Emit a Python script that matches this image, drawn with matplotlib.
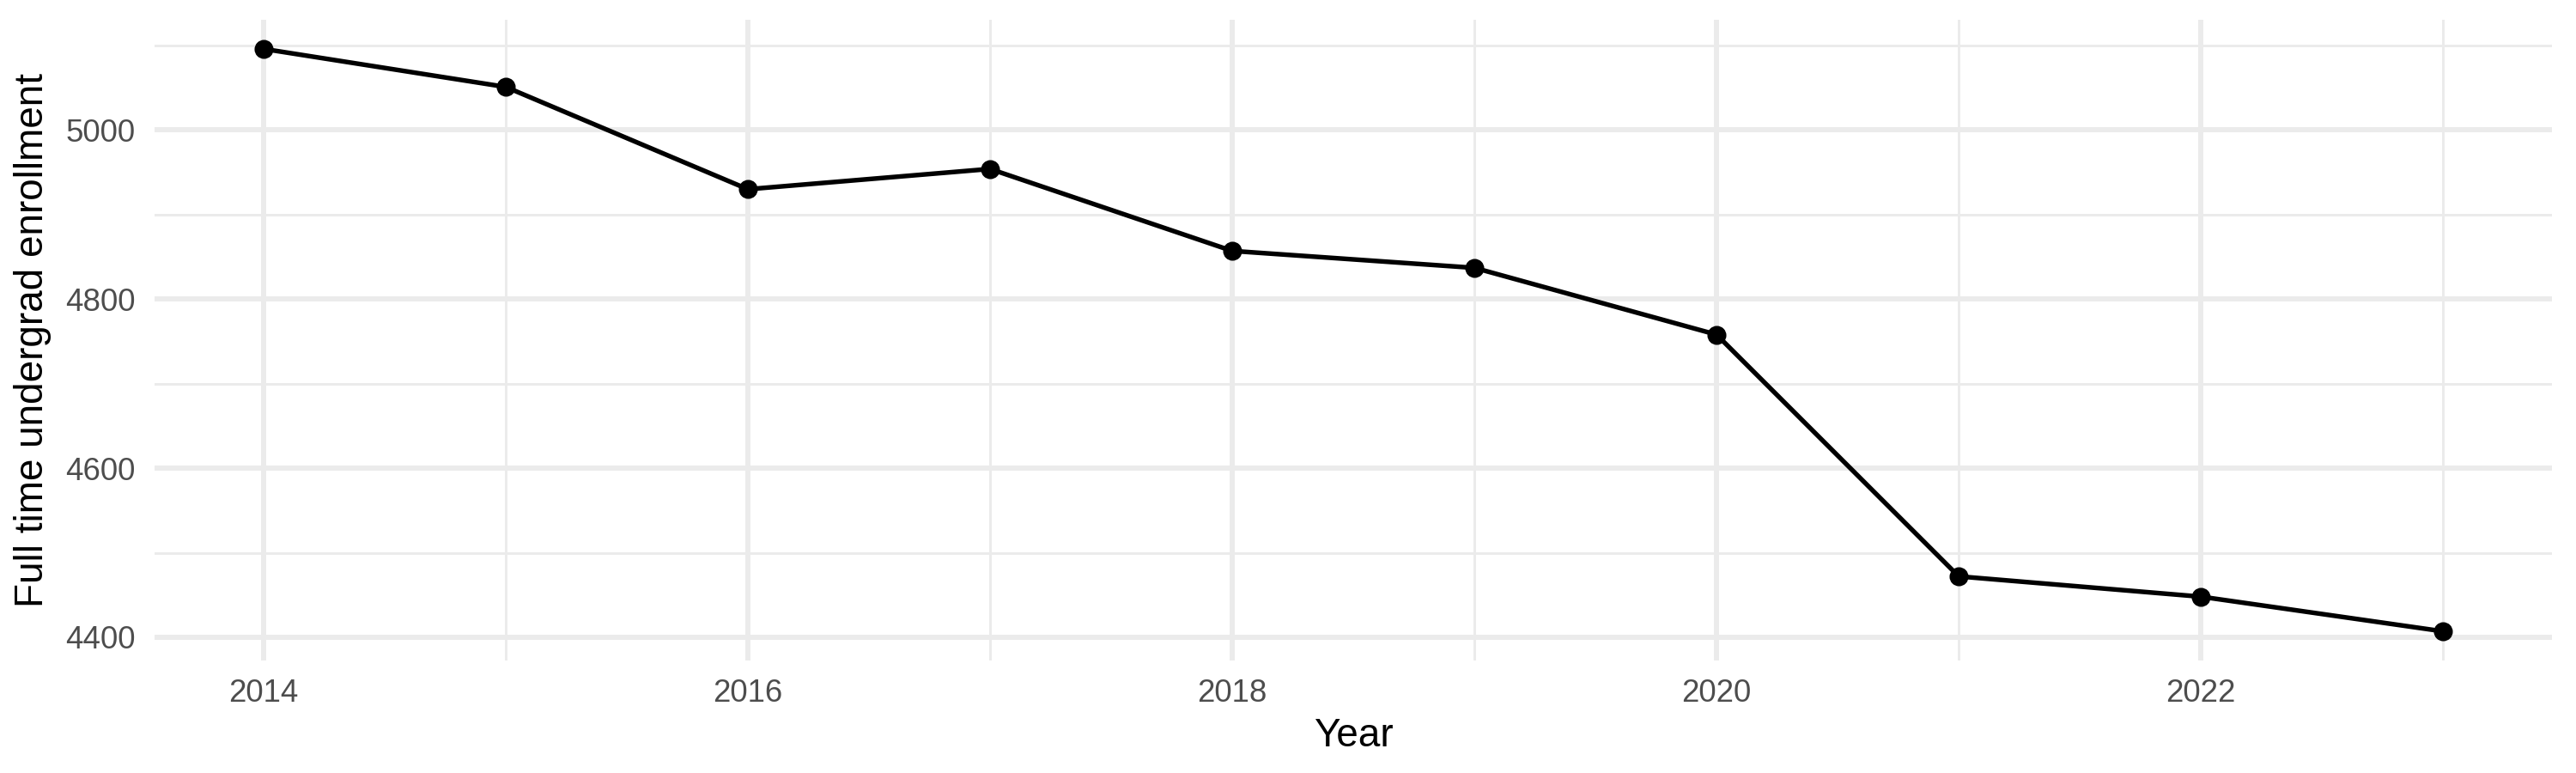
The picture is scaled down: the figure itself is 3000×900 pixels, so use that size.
import matplotlib
matplotlib.use("Agg")
import matplotlib.pyplot as plt
from matplotlib.ticker import MultipleLocator

years = [2014, 2015, 2016, 2017, 2018, 2019, 2020, 2021, 2022, 2023]
enrollment = [5096, 5051, 4930, 4954, 4857, 4837, 4758, 4472, 4448, 4407]

x_label = "Year"
y_label = "Full time undergrad enrollment"

grid_color = "#EBEBEB"
tick_color = "#4D4D4D"

plt.rcParams["font.family"] = ["Liberation Sans", "DejaVu Sans"]

fig = plt.figure(figsize=(10, 3), dpi=300)
ax = fig.add_axes([0.06, 0.1456, 0.9307, 0.8288])

ax.plot(years, enrollment, color="black", linewidth=1.3, zorder=3)
ax.plot(years, enrollment, "o", color="black", markersize=4.3, zorder=4)

# ggplot-style 5% expansion on both axes
x_pad = (max(years) - min(years)) * 0.05
y_pad = (max(enrollment) - min(enrollment)) * 0.05
ax.set_xlim(min(years) - x_pad, max(years) + x_pad)
ax.set_ylim(min(enrollment) - y_pad, max(enrollment) + y_pad)

ax.xaxis.set_major_locator(MultipleLocator(2))
ax.xaxis.set_minor_locator(MultipleLocator(1))
ax.yaxis.set_major_locator(MultipleLocator(200))
ax.yaxis.set_minor_locator(MultipleLocator(100))

ax.grid(which="major", color=grid_color, linewidth=1.42, zorder=0)
ax.grid(which="minor", color=grid_color, linewidth=0.71, zorder=0)
ax.set_axisbelow(True)

for spine in ax.spines.values():
    spine.set_visible(False)

ax.tick_params(which="both", length=0)
ax.tick_params(axis="x", labelsize=8.8, labelcolor=tick_color, pad=5.0)
ax.tick_params(axis="y", labelsize=8.8, labelcolor=tick_color, pad=5.3)

ax.set_xlabel(x_label, fontsize=11, color="black", labelpad=2.5)
ax.set_ylabel(y_label, fontsize=11, color="black", labelpad=4.0)

fig.savefig("out.png", dpi=300, facecolor="white")
